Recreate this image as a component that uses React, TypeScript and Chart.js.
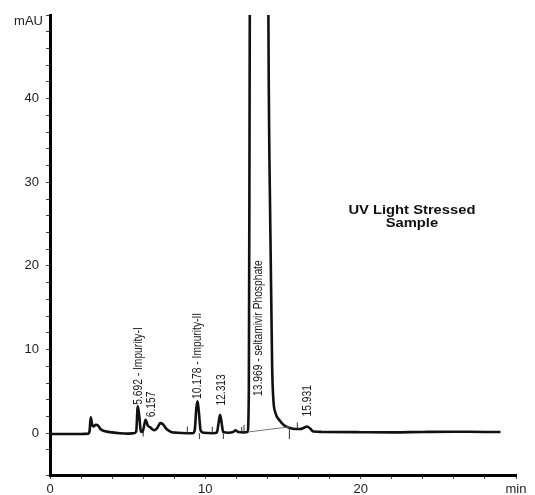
import { useEffect, useRef } from 'react';
import { Chart, registerables } from 'chart.js';

Chart.register(...registerables);

// Chromatogram trace (retention time in min, absorbance in mAU)
const times = [
  0, 1.0, 2.0, 2.45, 2.55, 2.62, 2.72, 2.8, 2.95, 3.1, 3.25, 3.5, 4.0, 4.5, 5.0, 5.4,
  5.55, 5.65, 5.75, 5.85, 5.95, 6.05, 6.15, 6.3, 6.45, 6.7, 6.9, 7.1, 7.25, 7.5, 7.8,
  8.2, 8.8, 9.2, 9.32, 9.42, 9.5, 9.58, 9.7, 9.9, 10.5, 10.75, 10.85, 10.95, 11.05,
  11.15, 11.5, 11.8, 11.95, 12.1, 12.5, 12.72, 12.8, 12.85, 12.9, 13.3, 13.8, 14.0,
  14.06, 14.18, 14.3, 14.38, 14.5, 14.8, 15.1, 15.4, 15.8, 16.1, 16.35, 16.55, 16.75,
  16.95, 17.5, 20, 22, 24, 26, 28, 29,
];
const signal = [
  -0.1, -0.1, -0.1, -0.05, 0.3, 1.9, 1.0, 0.8, 1.0, 0.9, 0.5, 0.25, 0.1, 0.0, -0.05, 0.0,
  0.2, 3.2, 2.0, 0.2, 0.15, 0.8, 1.6, 0.9, 0.7, 0.35, 0.6, 1.2, 1.1, 0.5, 0.15,
  0.05, 0.0, 0.0, 0.4, 3.0, 3.8, 2.6, 0.3, 0.05, 0.0, 0.1, 1.2, 2.2, 1.2,
  0.15, 0.05, 0.15, 0.35, 0.15, 0.1, 0.15, 5, 40, 80, 140, 160, 90,
  50, 25, 8, 4.0, 2.5, 1.5, 0.9, 0.65, 0.5, 0.5, 0.65, 0.8, 0.55,
  0.2, 0.15, 0.12, 0.1, 0.15, 0.18, 0.15, 0.15,
];

// Integration event markers
const eventTimes = [6.0, 8.84, 9.62, 10.45, 11.16, 12.34, 12.49, 15.41, 15.92];
const eventLow = [-0.4, -0.1, -0.7, 0.0, -0.7, 0.1, 0.1, -0.7, 0.5];
const eventHigh = [0.2, 0.8, 0.0, 0.75, 0.0, 0.75, 1.0, 0.7, 1.3];

// Drop baseline under the main peak
const baselineTimes = [12.77, 15.4];
const baselineValues = [0.15, 0.75];

// Peak annotations
const peakLabels = [
  '5.692 - Impurity-I',
  '6.157',
  '10.178 - Impurity-II',
  '12.313',
  '13.969 - seltamivir Phosphate',
  '15.931',
];
const peakLabelTimes = [5.73, 6.55, 9.49, 11.06, 13.43, 16.55];
const peakLabelLevels = [3.4, 1.9, 4.1, 3.3, 4.45, 2.0];

const titleLines = ['UV Light Stressed', 'Sample'];
const titleTime = 23.3;
const titleLevel = 26.6;

const yTickLabelValues = [0, 10, 20, 30, 40];
const xTickLabelValues = [0, 10, 20];
const xUnit = 'min';
const yUnit = 'mAU';

const annotationPlugin = {
  id: 'chromAnnotations',
  afterDatasetsDraw(chart: any) {
    const { ctx, scales, chartArea } = chart;
    const x = scales.x;
    const y = scales.y;
    ctx.save();
    ctx.fillStyle = '#1a1a1a';
    ctx.font = '12.5px "Liberation Sans", Arial, sans-serif';
    ctx.textAlign = 'left';
    ctx.textBaseline = 'middle';
    peakLabels.forEach((txt, i) => {
      const px = x.getPixelForValue(peakLabelTimes[i]);
      const py = y.getPixelForValue(peakLabelLevels[i]);
      ctx.save();
      ctx.translate(px, py);
      ctx.rotate(-Math.PI / 2);
      ctx.scale(0.82, 1);
      ctx.fillText(txt, 0, 0);
      ctx.restore();
    });

    // Title
    const tx = x.getPixelForValue(titleTime);
    const ty = y.getPixelForValue(titleLevel);
    ctx.font = 'bold 12.5px "Liberation Sans", Arial, sans-serif';
    ctx.textAlign = 'center';
    ctx.fillStyle = '#111';
    titleLines.forEach((line, i) => {
      ctx.save();
      ctx.translate(tx, ty + i * 13);
      ctx.scale(1.18, 1);
      ctx.fillText(line, 0, 0);
      ctx.restore();
    });

    // y unit label
    ctx.font = '13px "Liberation Sans", Arial, sans-serif';
    ctx.fillStyle = '#222';
    ctx.textAlign = 'right';
    ctx.fillText(yUnit, chartArea.left - 7, y.getPixelForValue(50) + 6);
    ctx.restore();
  },
};

export default function App() {
  const ref = useRef<HTMLCanvasElement | null>(null);

  useEffect(() => {
    if (!ref.current) return;
    const trace = times.map((t, i) => ({ x: t, y: signal[i] }));
    const events: { x: number; y: number | null }[] = [];
    eventTimes.forEach((t, i) => {
      events.push({ x: t, y: eventLow[i] });
      events.push({ x: t, y: eventHigh[i] });
      events.push({ x: t, y: null });
    });
    const baseline = baselineTimes.map((t, i) => ({ x: t, y: baselineValues[i] }));

    const chart = new Chart(ref.current, {
      type: 'line',
      data: {
        datasets: [
          {
            data: baseline,
            borderColor: '#777',
            borderWidth: 1,
            pointRadius: 0,
          },
          {
            data: events,
            borderColor: '#333',
            borderWidth: 1,
            pointRadius: 0,
            spanGaps: false,
          },
          {
            data: trace,
            borderColor: '#111',
            borderWidth: 2.6,
            pointRadius: 0,
            cubicInterpolationMode: 'monotone',
          },
        ],
      },
      options: {
        animation: false,
        responsive: false,
        layout: { padding: { left: 0, right: 19, top: 15, bottom: 0 } },
        plugins: { legend: { display: false }, tooltip: { enabled: false } },
        scales: {
          x: {
            type: 'linear',
            min: 0,
            max: 30,
            afterFit: (s: any) => {
              s.height = 20;
            },
            grid: {
              drawOnChartArea: false,
              drawTicks: true,
              tickLength: 4,
              color: '#444',
            },
            border: { display: true, color: '#000', width: 3 },
            ticks: {
              stepSize: 2,
              autoSkip: false,
              maxRotation: 0,
              padding: 3,
              color: '#222',
              font: { family: '"Liberation Sans", Arial, sans-serif', size: 13 },
              callback: (v: any) =>
                xTickLabelValues.includes(v) ? String(v) : v === 30 ? xUnit : '',
            },
          },
          y: {
            type: 'linear',
            min: -5,
            max: 50,
            afterFit: (s: any) => {
              s.width = 50;
            },
            grid: {
              drawOnChartArea: false,
              drawTicks: true,
              tickLength: 4,
              color: '#444',
            },
            border: { display: true, color: '#000', width: 3 },
            ticks: {
              stepSize: 2,
              autoSkip: false,
              padding: 7,
              color: '#222',
              font: { family: '"Liberation Sans", Arial, sans-serif', size: 13 },
              callback: (v: any) => (yTickLabelValues.includes(v) ? String(v) : ''),
            },
          },
        },
      },
      plugins: [annotationPlugin],
    } as any);
    return () => chart.destroy();
  }, []);

  return (
    <canvas
      ref={ref}
      width={535}
      height={495}
      style={{ position: 'absolute', left: 0, top: 0, display: 'block' }}
    />
  );
}
